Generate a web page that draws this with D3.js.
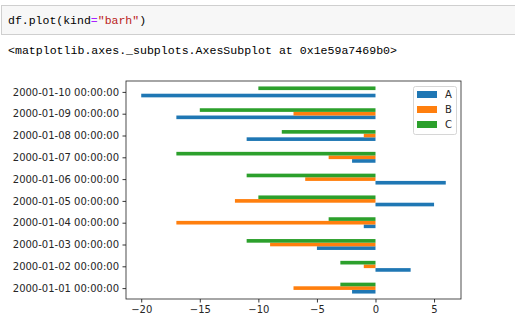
<!DOCTYPE html>
<html>
<head>
<meta charset="utf-8">
<script src="https://cdn.jsdelivr.net/npm/d3@7"></script>
<style>
  html, body { margin: 0; padding: 0; background: #ffffff; }
  svg { display: block; }
</style>
</head>
<body>
<svg id="page" width="515" height="329"></svg>
<script>
// Dates on the category axis (bottom to top)
const categories = [
  "2000-01-01 00:00:00", "2000-01-02 00:00:00", "2000-01-03 00:00:00",
  "2000-01-04 00:00:00", "2000-01-05 00:00:00", "2000-01-06 00:00:00",
  "2000-01-07 00:00:00", "2000-01-08 00:00:00", "2000-01-09 00:00:00",
  "2000-01-10 00:00:00"
];
const seriesNames = ["A", "B", "C"];
const seriesA = [-2, 3, -5, -1, 5, 6, -2, -11, -17, -20];
const seriesB = [-7, -1, -9, -17, -12, -6, -4, -1, -7, 0];
const seriesC = [-3, -3, -11, -4, -10, -11, -17, -8, -15, -10];
const xTicks = [-20, -15, -10, -5, 0, 5];
const colors = ["#1f77b4", "#ff7f0e", "#2ca02c"];

const series = [seriesA, seriesB, seriesC];
const svg = d3.select("#page");

// Notebook cell: input box with the code, then the output repr line
const mono = "'Liberation Mono', 'DejaVu Sans Mono', monospace";
svg.append("rect")
  .attr("x", 1.5).attr("y", 5.5).attr("width", 520).attr("height", 29)
  .attr("fill", "#f7f7f7").attr("stroke", "#cfcfcf");
const code = svg.append("text")
  .attr("x", 8).attr("y", 24)
  .attr("font-family", mono).attr("font-size", 11.5);
code.append("tspan").attr("fill", "#000").text("df.plot(kind");
code.append("tspan").attr("fill", "#aa22ff").text("=");
code.append("tspan").attr("fill", "#ba2121").text("\u2033barh\u2033");
code.append("tspan").attr("fill", "#000").text(")");

svg.append("text")
  .attr("x", 8).attr("y", 54)
  .attr("font-family", mono).attr("font-size", 11.5)
  .attr("fill", "#000")
  .attr("textLength", 389).attr("lengthAdjust", "spacingAndGlyphs")
  .text("<matplotlib.axes._subplots.AxesSubplot at 0x1e59a7469b0>");

// Plot area
const plotL = 126, plotR = 461, plotT = 81, plotB = 299;
const x = d3.scaleLinear().domain([-21.3, 7.3]).range([plotL, plotR]);
const y = d3.scaleLinear().domain([-0.5, categories.length - 0.5]).range([plotB, plotT]);
const barH = 0.5 / 3;

const g = svg.append("g");
series.forEach((vals, j) => {
  g.selectAll(null)
    .data(vals)
    .join("rect")
    .attr("x", d => x(Math.min(0, d)))
    .attr("width", d => Math.abs(x(d) - x(0)))
    .attr("y", (d, i) => y(i + (j - 1) * barH + barH / 2))
    .attr("height", y(0) - y(barH))
    .attr("fill", colors[j]);
});

const font = "'DejaVu Sans', sans-serif";

// Axes
const xAxis = d3.axisBottom(x)
  .tickValues(xTicks)
  .tickSize(3.5).tickPadding(3.5)
  .tickFormat(d => d < 0 ? "\u2212" + Math.abs(d) : String(d));
const gx = svg.append("g").attr("transform", `translate(0,${plotB})`).call(xAxis);

const yAxis = d3.axisLeft(y)
  .tickValues(d3.range(categories.length))
  .tickSize(3.5).tickPadding(3.5)
  .tickFormat(i => categories[i]);
const gy = svg.append("g").attr("transform", `translate(${plotL},0)`).call(yAxis);

[gx, gy].forEach(a => {
  a.select(".domain").remove();
  a.selectAll("line").attr("stroke", "#000").attr("stroke-width", 0.8);
  a.selectAll("text").attr("font-family", font).attr("font-size", 10).attr("fill", "#262626");
});

// Frame
svg.append("rect")
  .attr("x", plotL).attr("y", plotT)
  .attr("width", plotR - plotL).attr("height", plotB - plotT)
  .attr("fill", "none").attr("stroke", "#222").attr("stroke-width", 0.8);

// Legend
const lg = svg.append("g");
lg.append("rect")
  .attr("x", 413.5).attr("y", 86.5).attr("width", 43).attr("height", 48)
  .attr("rx", 2).attr("fill", "#fff").attr("fill-opacity", 0.8)
  .attr("stroke", "#cccccc").attr("stroke-width", 0.8);
seriesNames.forEach((name, j) => {
  const cy = 94.5 + j * 15;
  lg.append("rect")
    .attr("x", 417).attr("y", cy - 3.5).attr("width", 20).attr("height", 7)
    .attr("fill", colors[j]);
  lg.append("text")
    .attr("x", 445).attr("y", cy + 3.6)
    .attr("font-family", font).attr("font-size", 10).attr("fill", "#262626")
    .text(name);
});
</script>
</body>
</html>
